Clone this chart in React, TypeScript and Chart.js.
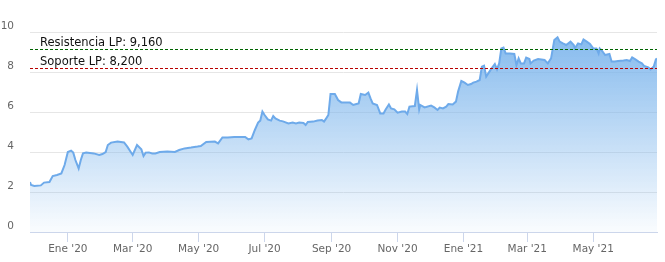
import React, { useEffect, useRef } from 'react';
import { Chart, registerables } from 'chart.js';

Chart.register(...registerables);

// Days since 2020-01-01 of each sampled point
const DAYS = [
  -35, -34, -31, -25, -22, -17, -14, -10, -6, -3,
  0, 3, 5, 7, 10, 12, 14, 17, 24, 29, 32, 35, 37, 40, 46, 52, 55, 60, 64, 68,
  70, 72, 75, 78, 81, 85, 92, 99, 103, 108, 114, 120, 123, 128, 136, 139, 143, 148, 154, 164,
  167, 170, 173, 176, 178, 180, 182, 185, 188, 190, 192, 196, 199, 204, 208, 211, 214, 218, 220, 222,
  227, 231, 235, 237, 239, 241, 243, 247, 250, 253, 261, 264, 267, 269, 271, 275, 278, 280, 282, 286,
  289, 292, 294, 297, 299, 302, 305, 309, 312, 314, 316, 321, 323, 325, 326, 330, 336, 339, 342, 344,
  347, 350, 352, 356, 359, 361, 364, 367, 370, 373, 375, 378, 381, 383, 385, 387, 390, 392, 395, 397,
  399, 401, 403, 405, 409, 413, 415, 417, 419, 422, 424, 427, 428, 431, 435, 441, 444, 447, 450, 453,
  455, 458, 461, 465, 468, 469, 472, 475, 477, 480, 483, 486, 489, 491, 492, 494, 497, 501, 503, 506,
  509, 514, 517, 520, 522, 525, 528, 531, 533, 537, 539, 542, 544, 545,
];

const VALUES = [
  2.5, 2.35, 2.3, 2.33, 2.47, 2.5, 2.8, 2.85, 2.93, 3.35,
  4.0, 4.07, 3.97, 3.6, 3.18, 3.6, 3.93, 3.97, 3.93, 3.85, 3.9, 4.0, 4.35, 4.47, 4.52, 4.48, 4.27, 3.85, 4.35, 4.13,
  3.8, 3.97, 3.98, 3.93, 3.93, 4.0, 4.02, 4.0, 4.1, 4.18, 4.22, 4.27, 4.3, 4.5, 4.52, 4.43, 4.73, 4.72, 4.75, 4.75,
  4.63, 4.68, 5.1, 5.47, 5.57, 6.02, 5.85, 5.63, 5.57, 5.8, 5.68, 5.57, 5.53, 5.43, 5.47, 5.43, 5.47, 5.45, 5.35, 5.5,
  5.52, 5.57, 5.6, 5.52, 5.68, 5.85, 6.9, 6.9, 6.6, 6.48, 6.47, 6.35, 6.4, 6.43, 6.9, 6.85, 6.97, 6.68, 6.43, 6.35,
  5.93, 5.93, 6.13, 6.38, 6.18, 6.13, 5.97, 6.02, 6.02, 5.9, 6.27, 6.3, 7.1, 6.13, 6.35, 6.23, 6.32, 6.23, 6.1, 6.22,
  6.18, 6.27, 6.4, 6.38, 6.52, 7.02, 7.55, 7.47, 7.35, 7.4, 7.47, 7.52, 7.6, 8.27, 8.32, 7.77, 8.02, 8.18, 8.4, 8.13,
  8.43, 9.18, 9.22, 8.93, 8.93, 8.9, 8.35, 8.68, 8.43, 8.43, 8.72, 8.65, 8.43, 8.57, 8.65, 8.6, 8.43, 8.68, 9.6, 9.73,
  9.52, 9.43, 9.35, 9.52, 9.35, 9.18, 9.43, 9.38, 9.63, 9.52, 9.4, 9.18, 9.18, 8.93, 9.18, 9.07, 8.85, 8.9, 8.52, 8.52,
  8.55, 8.57, 8.6, 8.55, 8.73, 8.63, 8.52, 8.43, 8.3, 8.23, 8.13, 8.27, 8.63, 8.68,
];

const X_MIN = -35;
const X_MAX = 545;
const X_TICK_DAYS = [0, 60, 121, 182, 244, 305, 366, 425, 486];
const X_TICK_LABELS = ["Ene '20", "Mar '20", "May '20", "Jul '20", "Sep '20", "Nov '20", "Ene '21", "Mar '21", "May '21"];

const Y_MIN = 0;
const Y_MAX = 10;
const Y_STEP = 2;

const RESISTANCE = 9.16;
const SUPPORT = 8.2;
const RESISTANCE_LABEL = 'Resistencia LP';
const SUPPORT_LABEL = 'Soporte LP';

const fmt = (v: number) => v.toFixed(3).replace('.', ',');

const levelsPlugin = {
  id: 'levels',
  afterDatasetsDraw(chart: any) {
    const { ctx, chartArea, scales } = chart;
    const y = scales.y;
    const items = [
      { v: RESISTANCE, text: `${RESISTANCE_LABEL}: ${fmt(RESISTANCE)}`, color: '#006400' },
      { v: SUPPORT, text: `${SUPPORT_LABEL}: ${fmt(SUPPORT)}`, color: '#b80000' },
    ];
    ctx.save();
    for (const it of items) {
      const py = Math.round(y.getPixelForValue(it.v)) + 0.5;
      ctx.beginPath();
      ctx.setLineDash([3, 2]);
      ctx.strokeStyle = it.color;
      ctx.lineWidth = 1;
      ctx.moveTo(chartArea.left, py);
      ctx.lineTo(chartArea.right, py);
      ctx.stroke();
      ctx.setLineDash([]);
      ctx.font = '11.5px "DejaVu Sans"';
      ctx.fillStyle = '#111';
      ctx.textAlign = 'left';
      ctx.textBaseline = 'alphabetic';
      ctx.fillText(it.text, chartArea.left + 10, py - 3.5);
    }
    ctx.restore();
  },
};

export default function App() {
  const ref = useRef<HTMLCanvasElement | null>(null);

  useEffect(() => {
    const canvas = ref.current;
    if (!canvas) return;
    const points = DAYS.map((d, i) => ({ x: d, y: VALUES[i] }));
    const chart = new Chart(canvas, {
      type: 'line',
      data: {
        datasets: [
          {
            data: points,
            borderColor: '#6eaaea',
            borderWidth: 2,
            pointRadius: 0,
            tension: 0,
            fill: 'origin',
            backgroundColor: (c: any) => {
              const area = c.chart.chartArea;
              if (!area) return 'rgba(124,181,236,0.5)';
              const g = c.chart.ctx.createLinearGradient(0, area.top, 0, area.bottom);
              g.addColorStop(0, 'rgba(124,181,236,0.95)');
              g.addColorStop(1, 'rgba(124,181,236,0.04)');
              return g;
            },
          },
        ],
      },
      options: {
        responsive: false,
        animation: false,
        layout: { padding: { left: 0, right: 8, top: 32, bottom: 0 } },
        plugins: { legend: { display: false }, tooltip: { enabled: false } },
        scales: {
          x: {
            type: 'linear',
            min: X_MIN,
            max: X_MAX,
            afterBuildTicks: (s: any) => {
              s.ticks = X_TICK_DAYS.map((v) => ({ value: v }));
            },
            afterFit: (s: any) => {
              s.height = 30;
            },
            ticks: {
              autoSkip: false,
              maxRotation: 0,
              padding: 1,
              color: '#666',
              font: { family: 'DejaVu Sans', size: 10.5 },
              callback: (v: any) => {
                const i = X_TICK_DAYS.indexOf(Number(v));
                return i >= 0 ? X_TICK_LABELS[i] : '';
              },
            },
            grid: {
              drawOnChartArea: false,
              drawTicks: true,
              tickLength: 10,
              color: '#ccd6eb',
            },
            border: { display: true, color: '#ccd6eb', width: 1 },
          },
          y: {
            type: 'linear',
            min: Y_MIN,
            max: Y_MAX,
            afterFit: (s: any) => {
              s.width = 30;
            },
            ticks: {
              stepSize: Y_STEP,
              padding: 16,
              labelOffset: -6,
              color: '#666',
              font: { family: 'DejaVu Sans', size: 10.5 },
            },
            grid: { color: '#e6e6e6', drawTicks: false },
            border: { display: false },
          },
        },
      },
      plugins: [levelsPlugin],
    } as any);
    return () => chart.destroy();
  }, []);

  return (
    <div style={{ position: 'fixed', left: 0, top: 0, width: 665, height: 262, background: '#fff' }}>
      <canvas ref={ref} width={665} height={262} style={{ width: 665, height: 262, display: 'block' }} />
    </div>
  );
}
